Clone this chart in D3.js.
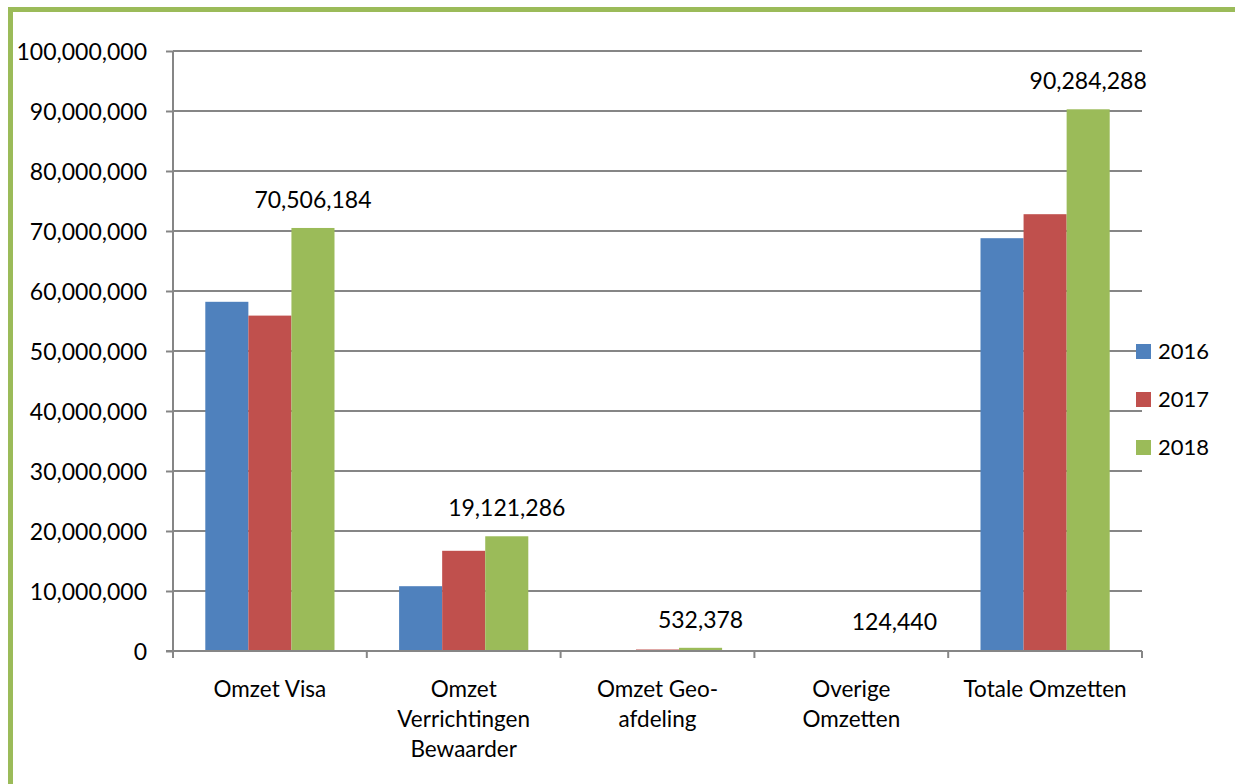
<!DOCTYPE html>
<html>
<head>
<meta charset="utf-8">
<script src="https://cdn.jsdelivr.net/npm/d3@7"></script>
<style>
  body { margin: 0; background: #fff; }
  svg text { font-family: Lato, "Open Sans", sans-serif; fill: #000; }
</style>
</head>
<body>
<div id="container"></div>
<script>
/* Data */
var categories = [
	["Omzet Visa"],
	["Omzet", "Verrichtingen", "Bewaarder"],
	["Omzet Geo-", "afdeling"],
	["Overige", "Omzetten"],
	["Totale Omzetten"]
];
var years = ["2016", "2017", "2018"];
var values2016 = [58200000, 10800000, 0, 0, 68800000];
var values2017 = [55900000, 16700000, 250000, 20000, 72800000];
var values2018 = [70506184, 19121286, 532378, 124440, 90284288];
var yTicks = [0, 10000000, 20000000, 30000000, 40000000, 50000000, 60000000, 70000000, 80000000, 90000000, 100000000];
var colors = ["#4F81BD", "#C0504D", "#9BBB59"];

var series = [values2016, values2017, values2018];

var w = 1235, h = 784;
var margin = {top: 51, right: 93, bottom: 133, left: 173};
var width = w - margin.left - margin.right,
	height = h - margin.top - margin.bottom;

var svg = d3.select("#container").append("svg")
	.attr("width", w)
	.attr("height", h);

/* Green frame */
svg.append("rect")
	.attr("x", 10.5)
	.attr("y", 9.5)
	.attr("width", w + 20)
	.attr("height", h + 20)
	.attr("fill", "none")
	.attr("stroke", "#9BBB59")
	.attr("stroke-width", 5);

var chart = svg.append("g")
	.attr("transform", "translate(" + margin.left + "," + margin.top + ")");

/* Scales */
var xScale = d3.scaleBand()
	.domain(d3.range(categories.length))
	.range([0, width]);

var yScale = d3.scaleLinear()
	.domain([0, 100000000])
	.range([height, 0]);

var barW = xScale.bandwidth() / (3 + 1.5);
var groupPad = barW * 0.75;

/* Gridlines + Y axis */
var yAxis = d3.axisLeft(yScale)
	.tickValues(yTicks)
	.tickFormat(d3.format(","))
	.tickSize(7)
	.tickPadding(19);

chart.append("g")
	.classed("grid", true)
	.selectAll("line")
	.data(yTicks.slice(1))
	.enter().append("line")
	.attr("x1", 0)
	.attr("x2", width)
	.attr("y1", d => yScale(d))
	.attr("y2", d => yScale(d))
	.attr("stroke", "#868686")
	.attr("stroke-width", 2);

var yG = chart.append("g")
	.classed("yaxis", true)
	.call(yAxis);
yG.select(".domain").attr("stroke", "#868686").attr("stroke-width", 2).attr("d", "M0," + height + "V0");
yG.selectAll(".tick line").attr("stroke", "#868686").attr("stroke-width", 2);
yG.selectAll(".tick text").style("font-size", "23px").attr("dy", "0.36em");

/* Bars */
series.forEach(function(vals, si) {
	chart.append("g")
		.selectAll("rect")
		.data(vals)
		.enter().append("rect")
		.attr("x", (d, i) => xScale(i) + groupPad + si * barW)
		.attr("width", barW)
		.attr("y", d => yScale(d))
		.attr("height", d => height - yScale(d))
		.attr("fill", colors[si]);
});

/* Data labels for 2018 */
chart.append("g")
	.selectAll("text")
	.data(values2018)
	.enter().append("text")
	.attr("x", (d, i) => xScale(i) + groupPad + 2.5 * barW)
	.attr("y", d => yScale(d) - 20)
	.attr("text-anchor", "middle")
	.style("font-size", "23px")
	.text(d => d3.format(",")(d));

/* X axis */
var xAxis = d3.axisBottom(xScale).tickSize(0).tickFormat("");
var xG = chart.append("g")
	.classed("xaxis", true)
	.attr("transform", "translate(0," + height + ")")
	.call(xAxis);
xG.select(".domain").attr("stroke", "#868686").attr("stroke-width", 2).attr("d", "M-7,0H" + width);

xG.selectAll(".sep")
	.data(d3.range(categories.length + 1))
	.enter().append("line")
	.attr("x1", d => d * xScale.step())
	.attr("x2", d => d * xScale.step())
	.attr("y1", 0)
	.attr("y2", 7)
	.attr("stroke", "#868686")
	.attr("stroke-width", 2);

var catLabels = chart.append("g")
	.selectAll("text")
	.data(categories)
	.enter().append("text")
	.attr("x", (d, i) => xScale(i) + xScale.bandwidth() / 2)
	.attr("y", height + 46)
	.attr("text-anchor", "middle")
	.style("font-size", "22.5px");

catLabels.selectAll("tspan")
	.data(d => d)
	.enter().append("tspan")
	.attr("x", function() { return d3.select(this.parentNode).attr("x"); })
	.attr("dy", (d, i) => i === 0 ? 0 : 30)
	.text(d => d);

/* Legend */
var legend = svg.append("g")
	.selectAll("g")
	.data(years)
	.enter().append("g")
	.attr("transform", (d, i) => "translate(1136," + (344 + i * 48) + ")");

legend.append("rect")
	.attr("width", 15)
	.attr("height", 15)
	.attr("fill", (d, i) => colors[i]);

legend.append("text")
	.attr("x", 22)
	.attr("y", 15)
	.style("font-size", "22px")
	.text(d => d);
</script>
</body>
</html>
